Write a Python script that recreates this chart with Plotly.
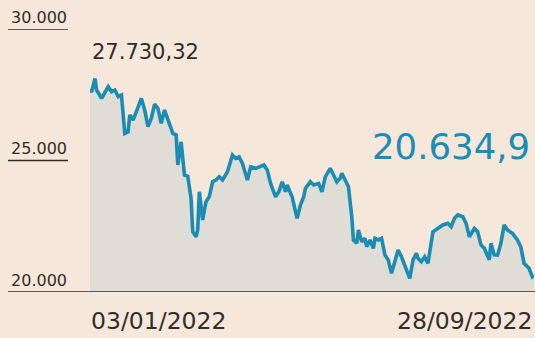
import plotly.graph_objects as go

# Daily closing levels of the index, 3 Jan – 28 Sep 2022
dates = [
    "2022-01-03", "2022-01-04", "2022-01-06", "2022-01-07", "2022-01-10", "2022-01-14",
    "2022-01-16", "2022-01-18", "2022-01-20", "2022-01-22", "2022-01-24", "2022-01-26",
    "2022-01-27", "2022-01-29", "2022-01-31", "2022-02-03", "2022-02-05", "2022-02-07",
    "2022-02-09", "2022-02-11", "2022-02-13", "2022-02-15", "2022-02-17", "2022-02-19",
    "2022-02-22", "2022-02-24", "2022-02-25", "2022-02-27", "2022-03-01", "2022-03-03",
    "2022-03-05", "2022-03-06", "2022-03-08", "2022-03-09", "2022-03-10", "2022-03-12",
    "2022-03-14", "2022-03-16", "2022-03-18", "2022-03-20", "2022-03-22", "2022-03-24",
    "2022-03-27", "2022-03-30", "2022-04-01", "2022-04-03", "2022-04-05", "2022-04-08",
    "2022-04-10", "2022-04-13", "2022-04-16", "2022-04-18", "2022-04-20", "2022-04-22",
    "2022-04-25", "2022-04-27", "2022-04-29", "2022-05-01", "2022-05-02", "2022-05-05",
    "2022-05-08", "2022-05-10", "2022-05-12", "2022-05-13", "2022-05-16", "2022-05-18",
    "2022-05-21", "2022-05-23", "2022-05-25", "2022-05-28", "2022-05-30", "2022-06-01",
    "2022-06-03", "2022-06-04", "2022-06-06", "2022-06-08", "2022-06-10", "2022-06-11",
    "2022-06-13", "2022-06-14", "2022-06-16", "2022-06-18", "2022-06-19", "2022-06-21",
    "2022-06-23", "2022-06-24", "2022-06-26", "2022-06-28", "2022-06-30", "2022-07-02",
    "2022-07-04", "2022-07-06", "2022-07-08", "2022-07-10", "2022-07-12", "2022-07-15",
    "2022-07-17", "2022-07-19", "2022-07-20", "2022-07-22", "2022-07-24", "2022-07-26",
    "2022-07-29", "2022-08-01", "2022-08-04", "2022-08-07", "2022-08-09", "2022-08-11",
    "2022-08-13", "2022-08-16", "2022-08-18", "2022-08-20", "2022-08-23", "2022-08-25",
    "2022-08-27", "2022-08-29", "2022-09-01", "2022-09-02", "2022-09-04", "2022-09-06",
    "2022-09-08", "2022-09-10", "2022-09-12", "2022-09-15", "2022-09-18", "2022-09-20",
    "2022-09-22", "2022-09-25", "2022-09-27", "2022-09-28",
]
values = [
    27730.32, 27600, 28120, 27680, 27360, 27810,
    27620, 27680, 27430, 27490, 26030, 26090,
    26730, 26540, 26860, 27360, 26920, 26290,
    26600, 27140, 26980, 26410, 26920, 26600,
    26030, 25970, 24830, 25710, 24450, 24400,
    23570, 22290, 22100, 22360, 23810, 22740,
    23430, 23620, 24190, 24260, 24380, 24260,
    24570, 25210, 25080, 25140, 24890, 24260,
    24760, 24700, 24760, 24830, 24640, 24130,
    23620, 23810, 24190, 23810, 24070, 23620,
    22800, 23310, 23620, 23940, 24190, 24070,
    24130, 23810, 24380, 24700, 24450, 24190,
    24320, 24510, 24260, 24000, 22860, 21980,
    21850, 22360, 21910, 22040, 21720, 21980,
    21660, 22040, 21980, 22040, 21410, 21220,
    20710, 21220, 21600, 21340, 21030, 20520,
    21220, 21470, 21280, 21150, 21340, 21090,
    22290, 22420, 22550, 22610, 22480, 22800,
    22930, 22860, 22610, 22100, 22420, 22290,
    21790, 21660, 21220, 21850, 21410, 21400,
    21850, 22550, 22360, 22230, 21980, 21720,
    21090, 20900, 20580, 20634.9,
]

y_ticks = [20000, 25000, 30000]
y_tick_text = ["20.000", "25.000", "30.000"]
first_label = "27.730,32"
last_label = "20.634,9"
start_text = "03/01/2022"
end_text = "28/09/2022"

BG = "#f5e7da"
FILL = "#e0dcd6"
LINE = "#1b8cb3"
INK = "#332d29"
FONT = "DejaVu Sans"

fig = go.Figure()
fig.add_trace(go.Scatter(
    x=dates, y=values, mode="lines",
    line=dict(color=LINE, width=3.6, shape="linear"),
    fill="tozeroy", fillcolor=FILL,
    hoverinfo="skip", showlegend=False,
))

# Short rules under the value labels; the lowest one doubles as the baseline
left_px, plot_w = 90, 444
x_rule0 = (8 - left_px) / plot_w
x_rule1 = (68 - left_px) / plot_w
shapes = []
for v in y_ticks[1:]:
    shapes.append(dict(type="line", xref="paper", yref="y", x0=x_rule0, x1=x_rule1,
                       y0=v, y1=v, line=dict(color=INK, width=1.3), layer="above"))
shapes.append(dict(type="line", xref="paper", yref="y", x0=x_rule0, x1=1.01,
                   y0=y_ticks[0], y1=y_ticks[0], line=dict(color=INK, width=1.4),
                   layer="above"))

annotations = [
    dict(x=dates[0], y=values[0], xref="x", yref="y", text=first_label,
         showarrow=False, xanchor="left", yanchor="middle", xshift=0, yshift=37,
         font=dict(family=FONT, size=21, color=INK)),
    dict(x=dates[-1], y=values[-1], xref="x", yref="y", text=last_label,
         showarrow=False, xanchor="right", yanchor="middle", xshift=-2, yshift=129,
         font=dict(family=FONT, size=35.5, color=LINE)),
    dict(x=dates[0], y=0, xref="x", yref="paper", text=start_text,
         showarrow=False, xanchor="left", yanchor="middle", xshift=-1, yshift=-29,
         font=dict(family=FONT, size=23.5, color=INK)),
    dict(x=dates[-1], y=0, xref="x", yref="paper", text=end_text,
         showarrow=False, xanchor="right", yanchor="middle", xshift=0, yshift=-29,
         font=dict(family=FONT, size=23.5, color=INK)),
]

fig.update_layout(
    width=535, height=338,
    margin=dict(l=left_px, r=1, t=29, b=46),
    paper_bgcolor=BG, plot_bgcolor=BG,
    shapes=shapes, annotations=annotations,
    xaxis=dict(
        type="date", range=[dates[0], dates[-1]],
        showgrid=False, zeroline=False, showline=False,
        tickvals=[dates[0], dates[-1]], ticktext=["", ""],
        ticks="inside", ticklen=5, tickwidth=1.2, tickcolor=INK,
        fixedrange=True,
    ),
    yaxis=dict(
        range=[20000, 30000], showgrid=False, zeroline=False, showline=False,
        tickvals=y_ticks, ticktext=y_tick_text, ticks="",
        ticklabelstandoff=22, ticklabelshift=-12,
        tickfont=dict(family=FONT, size=16, color=INK),
        fixedrange=True,
    ),
)

fig.write_html("out.html", config={"displayModeBar": False})
